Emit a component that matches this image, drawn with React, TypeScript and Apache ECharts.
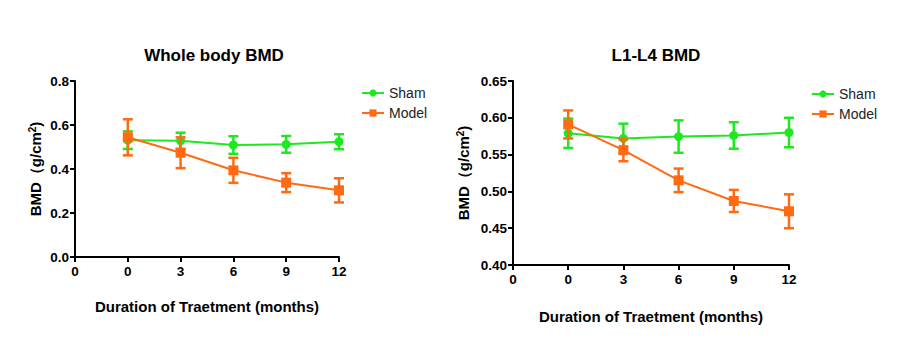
import React, { useEffect, useRef } from "react";
import * as echarts from "echarts";

const xTickLabels = ["0", "0", "3", "6", "9", "12"];
const months = [0, 3, 6, 9, 12];

const wbShamMean = [0.531, 0.528, 0.509, 0.512, 0.524];
const wbShamErr = [0.04, 0.037, 0.04, 0.038, 0.034];
const wbModelMean = [0.544, 0.474, 0.394, 0.338, 0.303];
const wbModelErr = [0.082, 0.07, 0.057, 0.043, 0.055];

const l4ShamMean = [0.579, 0.572, 0.5745, 0.576, 0.58];
const l4ShamErr = [0.02, 0.02, 0.022, 0.018, 0.02];
const l4ModelMean = [0.591, 0.556, 0.515, 0.487, 0.473];
const l4ModelErr = [0.019, 0.015, 0.016, 0.015, 0.023];

const GREEN = "#1ee81e";
const ORANGE = "#ff6a13";
const FONT = "Liberation Sans, Arial, sans-serif";

function pts(mean: number[]) {
  return months.map((_, i) => [i + 1, mean[i]]);
}
function errs(mean: number[], err: number[]) {
  return months.map((_, i) => [i + 1, mean[i] - err[i], mean[i] + err[i]]);
}

function errorSeries(name: string, idx: number, data: number[][], color: string, z: number) {
  return {
    type: "custom",
    name: name + "-err",
    xAxisIndex: idx,
    yAxisIndex: idx,
    z,
    silent: true,
    data,
    renderItem: (params: any, api: any) => {
      const x = api.value(0);
      const lo = api.coord([x, api.value(1)]);
      const hi = api.coord([x, api.value(2)]);
      const w = 5;
      const style = { stroke: color, lineWidth: 2.5, fill: "none" };
      return {
        type: "group",
        children: [
          { type: "line", shape: { x1: lo[0], y1: lo[1], x2: hi[0], y2: hi[1] }, style },
          { type: "line", shape: { x1: lo[0] - w, y1: lo[1], x2: lo[0] + w, y2: lo[1] }, style },
          { type: "line", shape: { x1: hi[0] - w, y1: hi[1], x2: hi[0] + w, y2: hi[1] }, style },
        ],
      };
    },
  };
}

function lineSeries(name: string, idx: number, data: number[][], color: string, symbol: string, size: number, z: number) {
  return {
    type: "line",
    name,
    xAxisIndex: idx,
    yAxisIndex: idx,
    z,
    data,
    symbol,
    symbolSize: size,
    lineStyle: { color, width: 2 },
    itemStyle: { color },
  };
}

const axisLabelStyle = { color: "#000", fontWeight: "bold" as const, fontSize: 13.5, fontFamily: FONT };
const nameStyle = { color: "#000", fontWeight: "bold" as const, fontSize: 15, fontFamily: FONT };

function xAxis(idx: number, gap: number) {
  return {
    type: "value",
    gridIndex: idx,
    min: 0,
    max: 5,
    interval: 1,
    name: "Duration of Traetment (months)",
    nameLocation: "middle",
    nameGap: gap,
    nameTextStyle: nameStyle,
    axisLine: { show: true, onZero: false, lineStyle: { color: "#000", width: 2 } },
    axisTick: { show: true, length: 5, lineStyle: { color: "#000", width: 2 } },
    axisLabel: { ...axisLabelStyle, margin: 7, formatter: (v: number) => xTickLabels[Math.round(v)] ?? "" },
    splitLine: { show: false },
  };
}

function yAxis(idx: number, min: number, max: number, interval: number, digits: number, gap: number) {
  return {
    type: "value",
    gridIndex: idx,
    min,
    max,
    interval,
    name: "{n|BMD（g/cm}{s|2}{n|)}",
    nameLocation: "middle",
    nameGap: gap,
    nameRotate: 90,
    nameTextStyle: {
      ...nameStyle,
      rich: {
        n: { ...nameStyle },
        s: { color: "#000", fontWeight: "bold", fontSize: 10, fontFamily: FONT, verticalAlign: "top", padding: [0, 0, 6, 0] },
      },
    },
    axisLine: { show: true, lineStyle: { color: "#000", width: 2 } },
    axisTick: { show: true, length: 5, lineStyle: { color: "#000", width: 2 } },
    axisLabel: { ...axisLabelStyle, margin: 6, formatter: (v: number) => v.toFixed(digits) },
    splitLine: { show: false },
  };
}

function legend(left: number, top: number) {
  return {
    orient: "vertical",
    left,
    top,
    itemWidth: 22,
    itemHeight: 9,
    itemGap: 6,
    selectedMode: false,
    textStyle: { color: "#222", fontSize: 14, fontFamily: FONT },
    data: ["Sham", "Model"],
  };
}

export default function App() {
  const ref = useRef<HTMLDivElement>(null);
  useEffect(() => {
    if (!ref.current) return;
    const chart = echarts.init(ref.current, null, { renderer: "svg" });
    chart.setOption({
      animation: false,
      backgroundColor: "#fff",
      title: [
        {
          text: "Whole body BMD",
          left: 209,
          top: 42,
          textAlign: "center",
          textStyle: { fontSize: 17, fontWeight: "bold", color: "#000", fontFamily: FONT },
        },
        {
          text: "L1-L4 BMD",
          left: 651,
          top: 42,
          textAlign: "center",
          textStyle: { fontSize: 17, fontWeight: "bold", color: "#000", fontFamily: FONT },
        },
      ],
      legend: [legend(356, 81), legend(806, 82)],
      grid: [
        { left: 75, top: 81, width: 264, height: 176 },
        { left: 513, top: 81, width: 276, height: 184 },
      ],
      xAxis: [xAxis(0, 42), xAxis(1, 44)],
      yAxis: [yAxis(0, 0, 0.8, 0.2, 1, 32), yAxis(1, 0.4, 0.65, 0.05, 2, 42)],
      series: [
        errorSeries("Sham", 0, errs(wbShamMean, wbShamErr), GREEN, 2),
        lineSeries("Sham", 0, pts(wbShamMean), GREEN, "circle", 9, 3),
        errorSeries("Model", 0, errs(wbModelMean, wbModelErr), ORANGE, 4),
        lineSeries("Model", 0, pts(wbModelMean), ORANGE, "rect", 10, 5),
        errorSeries("Sham", 1, errs(l4ShamMean, l4ShamErr), GREEN, 2),
        lineSeries("Sham", 1, pts(l4ShamMean), GREEN, "circle", 9, 3),
        errorSeries("Model", 1, errs(l4ModelMean, l4ModelErr), ORANGE, 4),
        lineSeries("Model", 1, pts(l4ModelMean), ORANGE, "rect", 10, 5),
      ],
    });
    return () => chart.dispose();
  }, []);
  return (
    <div
      ref={ref}
      style={{ position: "fixed", left: 0, top: 0, width: 923, height: 362, background: "#fff" }}
    />
  );
}
